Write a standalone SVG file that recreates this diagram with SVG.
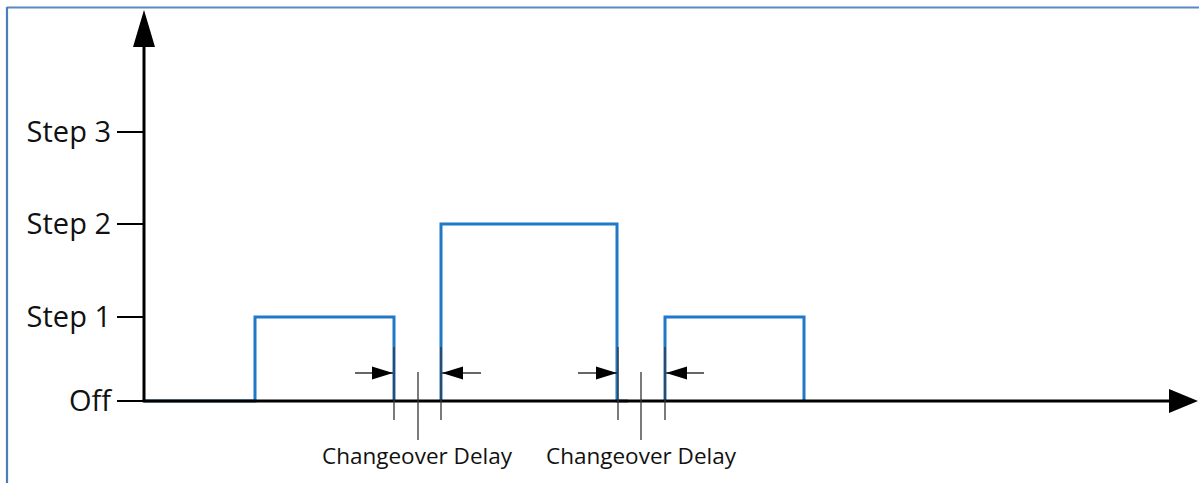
<svg xmlns="http://www.w3.org/2000/svg" width="1199" height="483" viewBox="0 0 1199 483">
  <style>
    .axis { stroke: #000; stroke-width: 3; fill: none; }
    .tick { stroke: #000; stroke-width: 2; fill: none; }
    .wave { stroke: #1f78c8; stroke-width: 3; fill: none; stroke-linejoin: miter; }
    .dim { stroke: #333; stroke-width: 1.3; fill: none; }
    .lbl { font-family: "Open Sans", "Liberation Sans", sans-serif; font-size: 29px; fill: #111; }
    .note { font-family: "Open Sans", "Liberation Sans", sans-serif; font-size: 22.5px; fill: #111; }
  </style>
  <defs>
    <marker id="dimArrow" markerUnits="userSpaceOnUse" markerWidth="21" markerHeight="16" refX="21" refY="8" orient="auto">
      <path d="M0,1.5 L21,8 L0,14.5 Z" fill="#000"/>
    </marker>
  </defs>

  <rect width="1199" height="483" fill="#fff"/>

  <!-- frame edges -->
  <g id="frame">
    <line x1="7" y1="7.5" x2="1199" y2="7.5" stroke="#5b89c4" stroke-width="2.2"/>
    <line x1="7" y1="7" x2="7" y2="483" stroke="#4a7ebb" stroke-width="2.2"/>
  </g>

  <!-- waveform -->
  <g id="waveform">
    <path class="wave" d="M144,401 H255 V317 H394 V401"/>
    <path class="wave" d="M441,401 V224 H617 V401 H628"/>
    <path class="wave" d="M665,401 V317 H804 V401"/>
  </g>

  <!-- axes -->
  <g id="axes">
    <line class="axis" x1="144" y1="401" x2="144" y2="40"/>
    <polygon points="144,10 133,47 155,47" fill="#000"/>
    <line class="axis" x1="142.5" y1="401" x2="1172" y2="401"/>
    <polygon points="1198,401 1169,389 1169,413" fill="#000"/>
  </g>

  <!-- level ticks and labels -->
  <g id="levels">
    <line class="tick" x1="117" y1="132" x2="144" y2="132"/>
    <line class="tick" x1="117" y1="224" x2="144" y2="224"/>
    <line class="tick" x1="117" y1="317" x2="144" y2="317"/>
    <line class="tick" x1="117" y1="401" x2="144" y2="401"/>
    <text class="lbl" x="111" y="142" text-anchor="end">Step 3</text>
    <text class="lbl" x="111" y="234" text-anchor="end">Step 2</text>
    <text class="lbl" x="111" y="327" text-anchor="end">Step 1</text>
    <text class="lbl" x="111" y="411" text-anchor="end">Off</text>
  </g>

  <!-- changeover delay dimensions -->
  <g id="connectors">
    <line class="dim" x1="394" y1="347" x2="394" y2="420"/>
    <line class="dim" x1="441" y1="347" x2="441" y2="420"/>
    <line class="dim" x1="418" y1="372" x2="418" y2="440"/>
    <line class="dim" x1="355" y1="373" x2="393" y2="373" marker-end="url(#dimArrow)"/>
    <line class="dim" x1="481" y1="373" x2="442" y2="373" marker-end="url(#dimArrow)"/>

    <line class="dim" x1="618" y1="347" x2="618" y2="420"/>
    <line class="dim" x1="665" y1="347" x2="665" y2="420"/>
    <line class="dim" x1="641" y1="372" x2="641" y2="440"/>
    <line class="dim" x1="578" y1="373" x2="617" y2="373" marker-end="url(#dimArrow)"/>
    <line class="dim" x1="704" y1="373" x2="666" y2="373" marker-end="url(#dimArrow)"/>
  </g>

  <g id="delay-labels">
    <text class="note" x="322" y="464">Changeover Delay</text>
    <text class="note" x="546" y="464">Changeover Delay</text>
  </g>
</svg>
